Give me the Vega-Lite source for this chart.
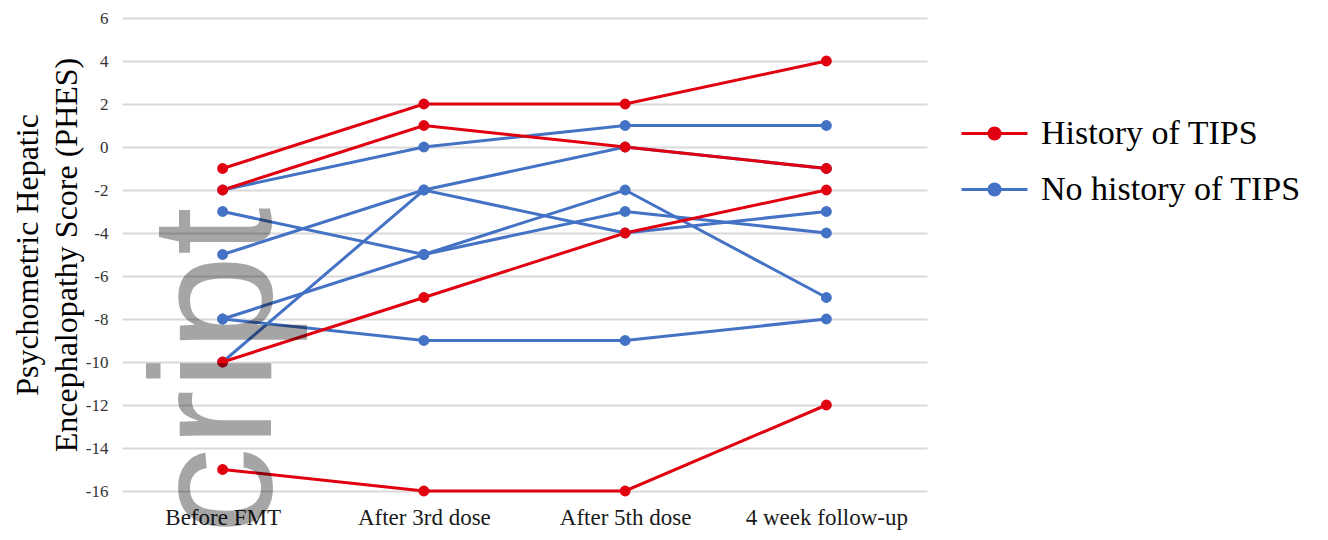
{
  "$schema": "https://vega.github.io/schema/vega-lite/v6.json",
  "width": 805,
  "height": 473,
  "autosize": {"type": "none"},
  "padding": {"left": 122, "top": 18, "right": 401, "bottom": 49},
  "background": "white",
  "config": {
    "view": {"stroke": null},
    "font": "Liberation Serif",
    "legend": {
      "symbolType": "M-1,0L1,0M0.17,0A0.17,0.17,0,1,1,-0.17,0A0.17,0.17,0,1,1,0.17,0Z",
      "symbolSize": 4356,
      "symbolStrokeWidth": 3
    }
  },
  "datasets": {
    "scores": [
      {"id": "B1", "group": "No history of TIPS", "time": "Before FMT", "value": -2},
      {"id": "B1", "group": "No history of TIPS", "time": "After 3rd dose", "value": 0},
      {"id": "B1", "group": "No history of TIPS", "time": "After 5th dose", "value": 1},
      {"id": "B1", "group": "No history of TIPS", "time": "4 week follow-up", "value": 1},
      {"id": "B2", "group": "No history of TIPS", "time": "Before FMT", "value": -5},
      {"id": "B2", "group": "No history of TIPS", "time": "After 3rd dose", "value": -2},
      {"id": "B2", "group": "No history of TIPS", "time": "After 5th dose", "value": 0},
      {"id": "B2", "group": "No history of TIPS", "time": "4 week follow-up", "value": -1},
      {"id": "B3", "group": "No history of TIPS", "time": "Before FMT", "value": -10},
      {"id": "B3", "group": "No history of TIPS", "time": "After 3rd dose", "value": -2},
      {"id": "B3", "group": "No history of TIPS", "time": "After 5th dose", "value": -4},
      {"id": "B3", "group": "No history of TIPS", "time": "4 week follow-up", "value": -3},
      {"id": "B4", "group": "No history of TIPS", "time": "Before FMT", "value": -3},
      {"id": "B4", "group": "No history of TIPS", "time": "After 3rd dose", "value": -5},
      {"id": "B4", "group": "No history of TIPS", "time": "After 5th dose", "value": -2},
      {"id": "B4", "group": "No history of TIPS", "time": "4 week follow-up", "value": -7},
      {"id": "B5", "group": "No history of TIPS", "time": "Before FMT", "value": -8},
      {"id": "B5", "group": "No history of TIPS", "time": "After 3rd dose", "value": -5},
      {"id": "B5", "group": "No history of TIPS", "time": "After 5th dose", "value": -3},
      {"id": "B5", "group": "No history of TIPS", "time": "4 week follow-up", "value": -4},
      {"id": "B6", "group": "No history of TIPS", "time": "Before FMT", "value": -8},
      {"id": "B6", "group": "No history of TIPS", "time": "After 3rd dose", "value": -9},
      {"id": "B6", "group": "No history of TIPS", "time": "After 5th dose", "value": -9},
      {"id": "B6", "group": "No history of TIPS", "time": "4 week follow-up", "value": -8},
      {"id": "R1", "group": "History of TIPS", "time": "Before FMT", "value": -1},
      {"id": "R1", "group": "History of TIPS", "time": "After 3rd dose", "value": 2},
      {"id": "R1", "group": "History of TIPS", "time": "After 5th dose", "value": 2},
      {"id": "R1", "group": "History of TIPS", "time": "4 week follow-up", "value": 4},
      {"id": "R2", "group": "History of TIPS", "time": "Before FMT", "value": -2},
      {"id": "R2", "group": "History of TIPS", "time": "After 3rd dose", "value": 1},
      {"id": "R2", "group": "History of TIPS", "time": "After 5th dose", "value": 0},
      {"id": "R2", "group": "History of TIPS", "time": "4 week follow-up", "value": -1},
      {"id": "R3", "group": "History of TIPS", "time": "Before FMT", "value": -10},
      {"id": "R3", "group": "History of TIPS", "time": "After 3rd dose", "value": -7},
      {"id": "R3", "group": "History of TIPS", "time": "After 5th dose", "value": -4},
      {"id": "R3", "group": "History of TIPS", "time": "4 week follow-up", "value": -2},
      {"id": "R4", "group": "History of TIPS", "time": "Before FMT", "value": -15},
      {"id": "R4", "group": "History of TIPS", "time": "After 3rd dose", "value": -16},
      {"id": "R4", "group": "History of TIPS", "time": "After 5th dose", "value": -16},
      {"id": "R4", "group": "History of TIPS", "time": "4 week follow-up", "value": -12}
    ],
    "watermark": [
      {"label": "cript", "time": "Before FMT", "value": -2.8}
    ]
  },
  "encoding": {
    "x": {
      "field": "time",
      "type": "ordinal",
      "sort": ["Before FMT", "After 3rd dose", "After 5th dose", "4 week follow-up"],
      "scale": {"type": "point", "padding": 0.5},
      "axis": {
        "title": null,
        "labelAngle": 0,
        "domain": false,
        "ticks": false,
        "grid": false,
        "labelFont": "Liberation Serif",
        "labelFontSize": 23,
        "labelColor": "#1a1a1a",
        "labelPadding": 15
      }
    },
    "y": {
      "field": "value",
      "type": "quantitative",
      "scale": {"domain": [-16, 6], "nice": false, "zero": false},
      "axis": {
        "title": ["Psychometric Hepatic", "Encephalopathy Score (PHES)"],
        "titleFont": "Liberation Serif",
        "titleFontSize": 32,
        "titleFontWeight": "normal",
        "titleColor": "#000000",
        "titleLineHeight": 39,
        "titlePadding": 2,
        "values": [-16, -14, -12, -10, -8, -6, -4, -2, 0, 2, 4, 6],
        "labelExpr": "toString(datum.value)",
        "domain": false,
        "ticks": false,
        "grid": true,
        "gridColor": "#d9d9d9",
        "gridWidth": 2,
        "labelFont": "Liberation Serif",
        "labelFontSize": 17,
        "labelColor": "#333333",
        "labelPadding": 14
      }
    }
  },
  "layer": [
    {
      "data": {"name": "scores"},
      "mark": {"type": "line", "strokeWidth": 3},
      "encoding": {
        "stroke": {
          "field": "group",
          "type": "nominal",
          "scale": {"domain": ["History of TIPS", "No history of TIPS"], "range": ["#e00010", "#4472c4"]},
          "legend": {
            "title": null,
            "orient": "none",
            "legendX": 838,
            "legendY": 81,
            "labelFont": "Liberation Serif",
            "labelFontSize": 34,
            "labelColor": "#000000",
            "labelOffset": 12,
            "labelLimit": 400,
            "rowPadding": 4
          }
        },
        "detail": {"field": "id"}
      }
    },
    {
      "data": {"name": "scores"},
      "mark": {"type": "point", "filled": true, "size": 80, "opacity": 1},
      "encoding": {
        "stroke": {
          "field": "group",
          "type": "nominal",
          "scale": {"domain": ["History of TIPS", "No history of TIPS"], "range": ["#e00010", "#4472c4"]}
        },
        "fill": {
          "field": "group",
          "type": "nominal",
          "scale": {"domain": ["History of TIPS", "No history of TIPS"], "range": ["#e00010", "#4472c4"]},
          "legend": {
            "title": null,
            "orient": "none",
            "legendX": 838,
            "legendY": 81,
            "labelFont": "Liberation Serif",
            "labelFontSize": 34,
            "labelColor": "#000000",
            "labelOffset": 12,
            "labelLimit": 400,
            "rowPadding": 4
          }
        }
      }
    },
    {
      "data": {"name": "watermark"},
      "mark": {
        "type": "text",
        "angle": 270,
        "align": "right",
        "baseline": "alphabetic",
        "font": "Liberation Sans",
        "fontSize": 173,
        "dy": 48,
        "fill": "#000000",
        "opacity": 0.35
      },
      "encoding": {
        "text": {"field": "label"}
      }
    }
  ]
}
